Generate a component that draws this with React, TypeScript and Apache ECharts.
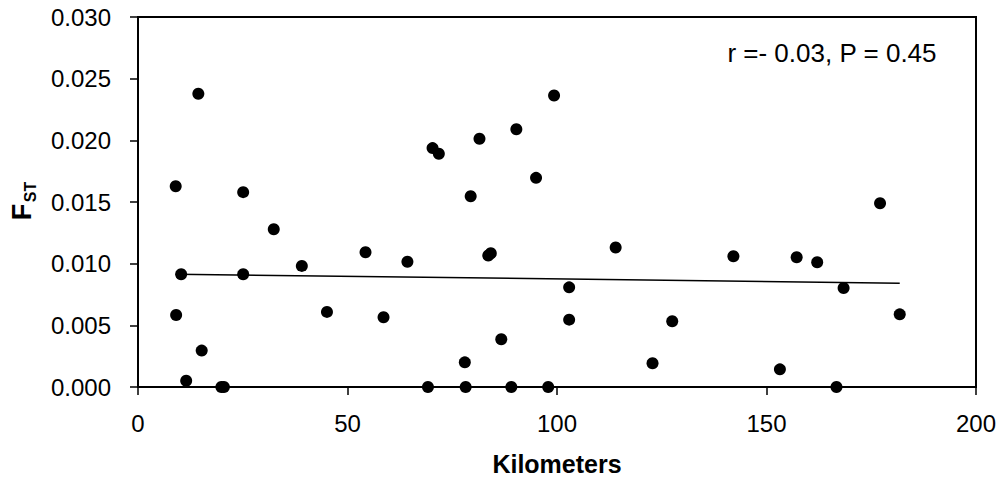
import React, { useEffect, useRef } from "react";
import * as echarts from "echarts";

const kilometers = [
  9.0, 9.1, 10.3, 11.5, 14.4, 15.2, 19.9, 20.5, 25.1, 25.1, 32.4, 39.1, 45.1, 54.3, 58.6,
  64.3, 69.2, 70.3, 71.8, 78.0, 78.2, 79.4, 81.5, 83.6, 84.2, 86.7, 89.1, 90.3, 95.0, 97.9,
  99.3, 102.9, 102.9, 114.0, 122.8, 127.5, 142.1, 153.2, 157.2, 162.1, 166.7, 168.4, 177.1, 181.8,
];
const fstValues = [
  0.01628, 0.00584, 0.00914, 0.00051, 0.02378, 0.00295, 0.0, 0.0, 0.0158, 0.00914, 0.01279,
  0.00982, 0.00609, 0.01093, 0.00565, 0.01015, 0.0, 0.01937, 0.01891, 0.002, 0.0, 0.01547,
  0.02013, 0.01066, 0.01084, 0.00387, 0.0, 0.0209, 0.01696, 0.0, 0.02364, 0.00808, 0.00546,
  0.01131, 0.00192, 0.00533, 0.0106, 0.00143, 0.01052, 0.01011, 0.0, 0.00803, 0.0149, 0.00589,
];
const trendX = [9.0, 181.8];
const trendY = [0.00915, 0.00841];
const annotation = "r =- 0.03, P = 0.45";
const xTitle = "Kilometers";

const FONT = "'Liberation Sans', Arial, Helvetica, sans-serif";

export default function App() {
  const ref = useRef<HTMLDivElement>(null);
  useEffect(() => {
    document.body.style.margin = "0";
    if (!ref.current) return;
    const chart = echarts.init(ref.current, null, { renderer: "svg" });
    const points = kilometers.map((k, i) => [k, fstValues[i]]);
    const trend = trendX.map((x, i) => [x, trendY[i]]);
    chart.setOption({
      animation: false,
      backgroundColor: "#ffffff",
      grid: {
        left: 138,
        top: 17,
        right: 28,
        bottom: 92,
        show: true,
        borderColor: "#000",
        borderWidth: 2,
        backgroundColor: "transparent",
      },
      xAxis: {
        type: "value",
        min: 0,
        max: 200,
        interval: 50,
        axisLine: { show: true, onZero: false, lineStyle: { color: "#000", width: 2 } },
        axisTick: { show: true, inside: false, length: 8, lineStyle: { color: "#000", width: 1.5 } },
        splitLine: { show: false },
        axisLabel: { color: "#000", fontSize: 24, fontFamily: FONT, margin: 24 },
      },
      yAxis: {
        type: "value",
        min: 0,
        max: 0.03,
        interval: 0.005,
        axisLine: { show: true, onZero: false, lineStyle: { color: "#000", width: 2 } },
        axisTick: { show: true, inside: false, length: 8, lineStyle: { color: "#000", width: 1.5 } },
        splitLine: { show: false },
        axisLabel: {
          color: "#000",
          fontSize: 24,
          fontFamily: FONT,
          margin: 27,
          formatter: (v: number) => v.toFixed(3),
        },
      },
      series: [
        {
          type: "line",
          data: trend,
          symbol: "none",
          lineStyle: { color: "#000", width: 1.5 },
          z: 2,
        },
        {
          type: "scatter",
          data: points,
          symbol: "circle",
          symbolSize: 12,
          itemStyle: { color: "#000", opacity: 1 },
          z: 3,
        },
      ],
      graphic: [
        {
          type: "text",
          right: 67,
          top: 40,
          style: {
            text: annotation,
            fontSize: 26,
            fontFamily: FONT,
            fill: "#000",
          },
        },
        {
          type: "text",
          x: 557,
          y: 464,
          style: {
            text: xTitle,
            fontSize: 25,
            fontWeight: "bold",
            fontFamily: FONT,
            fill: "#000",
            align: "center",
            verticalAlign: "middle",
          },
        },
        {
          type: "text",
          x: 22,
          y: 212,
          rotation: Math.PI / 2,
          style: {
            text: "F",
            fontSize: 27,
            fontWeight: "bold",
            fontFamily: FONT,
            fill: "#000",
            align: "center",
            verticalAlign: "middle",
          },
        },
        {
          type: "text",
          x: 30,
          y: 192,
          rotation: Math.PI / 2,
          style: {
            text: "ST",
            fontSize: 16,
            fontWeight: "bold",
            fontFamily: FONT,
            fill: "#000",
            align: "center",
            verticalAlign: "middle",
          },
        },
      ],
    });
    return () => chart.dispose();
  }, []);
  return <div ref={ref} style={{ width: 1004, height: 479 }} />;
}
